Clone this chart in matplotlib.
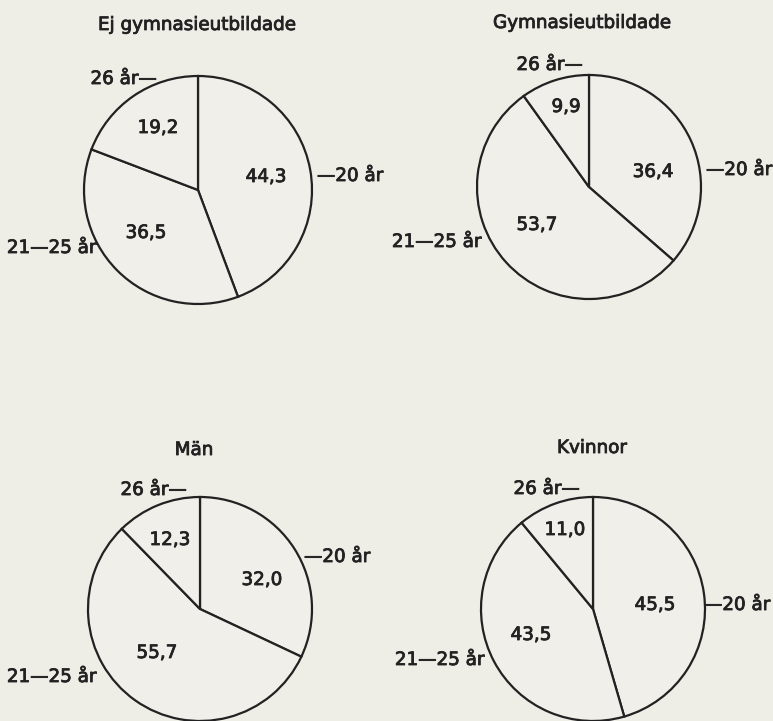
import matplotlib.pyplot as plt
import matplotlib.patheffects as pe

W, H = 773, 721

categories = ["—20 år", "21—25 år", "26 år—"]
titles = ["Ej gymnasieutbildade", "Gymnasieutbildade", "Män", "Kvinnor"]
ej_gymn = [44.3, 36.5, 19.2]
gymn = [36.4, 53.7, 9.9]
man = [32.0, 55.7, 12.3]
kvinnor = [45.5, 43.5, 11.0]
series = [ej_gymn, gymn, man, kvinnor]

# layout in image pixels (y downwards)
centers = [(198, 190), (589, 187), (200, 609), (593, 609)]
radii = [114, 112, 112, 112]
title_pos = [(197, 25), (582, 23), (194, 450), (592, 448)]
# value text offsets from centre, same order as categories
value_off = [
    [(68, -13), (-52, 43), (-40, -62)],
    [(64, -15), (-52, 38), (-23, -80)],
    [(62, -29), (-43, 44), (-30, -69)],
    [(62, -4), (-62, 26), (-28, -79)],
]
# category label anchors (dx, dy)
label_off = [
    [(119, -14), (-101, 58), (-41, -111)],
    [(117, -17), (-107, 55), (-6, -122)],
    [(104, -52), (-103, 68), (-13, -119)],
    [(111, -4), (-108, 51), (-13, -120)],
]
label_ha = ["left", "right", "right"]

bg = "#eeede6"
ink = "#222222"
plt.rcParams['font.family'] = ['DejaVu Sans']
fx = [pe.withStroke(linewidth=0.6, foreground=ink)]

fig = plt.figure(figsize=(W / 100, H / 100), dpi=100, facecolor=bg)
ax = fig.add_axes([0, 0, 1, 1])
ax.set_facecolor(bg)

for i, vals in enumerate(series):
    cx, cy = centers[i]
    ax.pie(vals, center=(cx, H - cy), radius=radii[i], startangle=90,
           counterclock=False, colors=["#f0efe9"] * 3,
           wedgeprops=dict(edgecolor=ink, linewidth=1.6), frame=True)
    tx, ty = title_pos[i]
    ax.text(tx, H - ty, titles[i], ha="center", va="center", fontsize=13.2,
            color=ink, path_effects=fx)
    for j, v in enumerate(vals):
        dx, dy = value_off[i][j]
        ax.text(cx + dx, H - (cy + dy), f"{v:.1f}".replace(".", ","),
                ha="center", va="center", fontsize=13.2, color=ink, path_effects=fx)
        lx, ly = label_off[i][j]
        ax.text(cx + lx, H - (cy + ly), categories[j], ha=label_ha[j],
                va="center", fontsize=13.2, color=ink, path_effects=fx)

ax.set_xlim(0, W)
ax.set_ylim(0, H)
ax.set_aspect("equal")
ax.axis("off")

fig.savefig("out.png", dpi=100, facecolor=bg)
